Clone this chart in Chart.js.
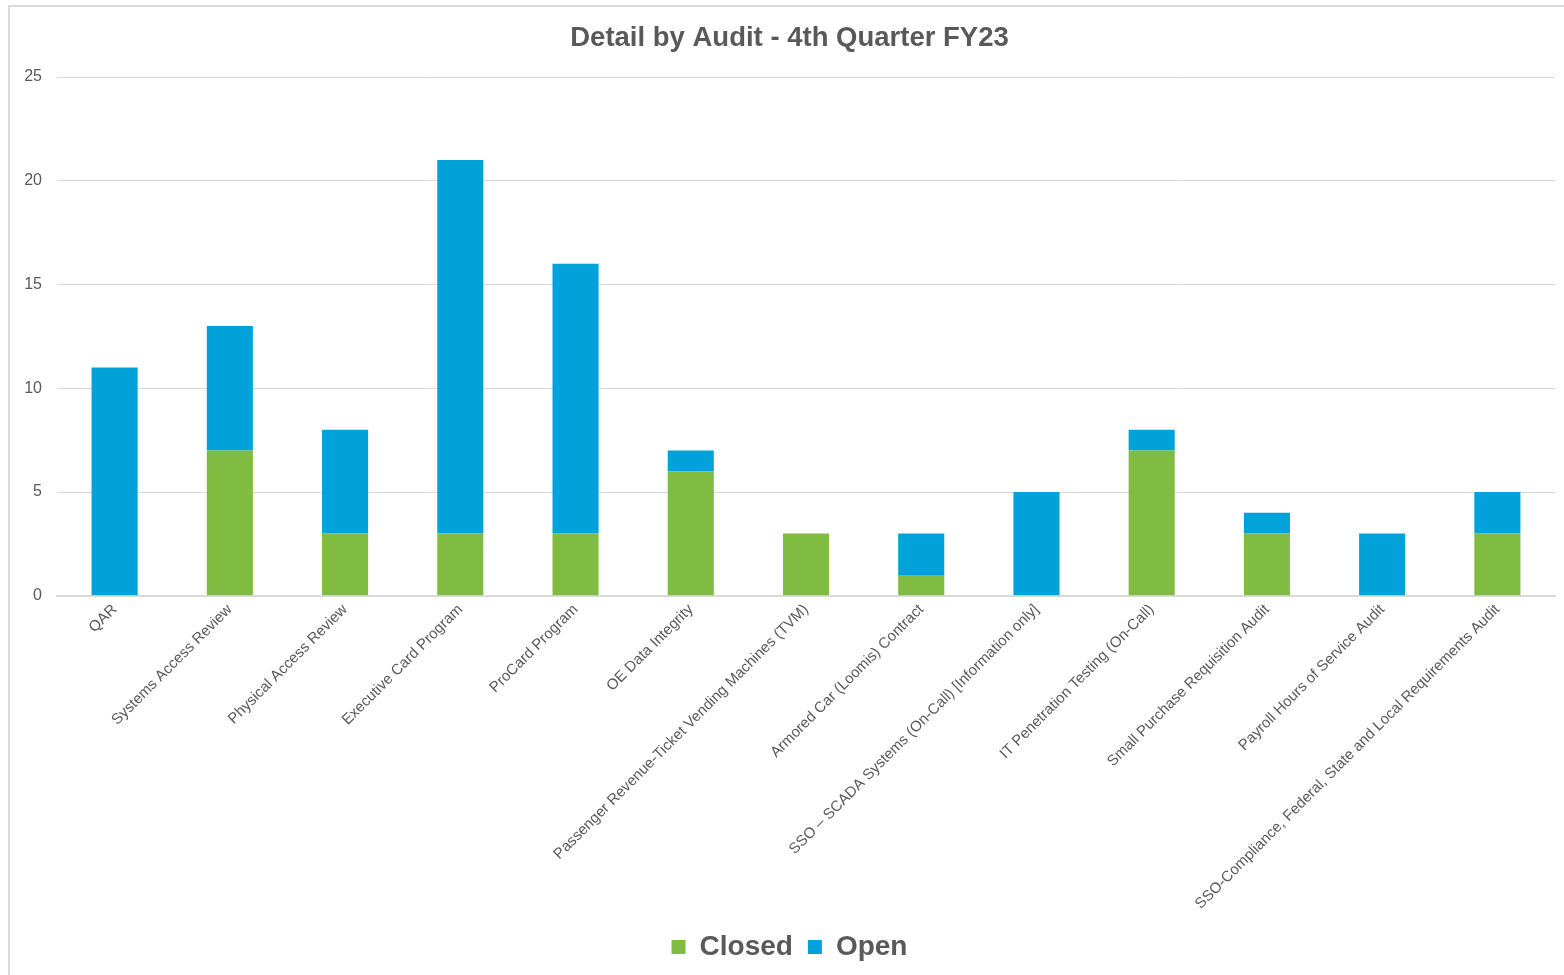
<!DOCTYPE html>
<html>
<head>
<meta charset="utf-8">
<script src="https://cdn.jsdelivr.net/npm/chart.js@4.4.0/dist/chart.umd.min.js"></script>
<style>
    body { margin: 0; background: #fff; overflow: hidden; }
    #frame { position: absolute; left: 8px; top: 5px; width: 1600px; height: 1000px; border: 2px solid #d9d9d9; box-sizing: border-box; }
    #wrap { position: absolute; left: 0; top: 0; width: 1564px; height: 975px; }
</style>
</head>
<body>
<div id="frame"></div>
<div id="wrap"><canvas id="chart1"></canvas></div>
<script>
    // audit names (x axis)
    var audits = [
        "QAR",
        "Systems Access Review",
        "Physical Access Review",
        "Executive Card Program",
        "ProCard Program",
        "OE Data Integrity",
        "Passenger Revenue-Ticket Vending Machines (TVM)",
        "Armored Car (Loomis) Contract",
        "SSO \u2013 SCADA Systems (On-Call) [Information only]",
        "IT Penetration Testing (On-Call)",
        "Small Purchase Requisition Audit",
        "Payroll Hours of Service Audit",
        "SSO-Compliance, Federal, State and Local Requirements Audit"
    ];
    var closedValues = [0, 7, 3, 3, 3, 6, 3, 1, 0, 7, 3, 0, 3];
    var openValues = [11, 6, 5, 18, 13, 1, 0, 2, 5, 1, 1, 3, 2];
    var yTicks = [0, 5, 10, 15, 20, 25];

    var textColor = "#595959";
    var gridColor = "#d9d9d9";

    new Chart("chart1", {
        type: "bar",
        data: {
            labels: audits,
            datasets: [{
                label: "Closed",
                data: closedValues,
                backgroundColor: "#7fbc41",
                categoryPercentage: 1,
                barPercentage: 0.4
            }, {
                label: "Open",
                data: openValues,
                backgroundColor: "#00a3d9",
                categoryPercentage: 1,
                barPercentage: 0.4
            }]
        },
        options: {
            responsive: true,
            maintainAspectRatio: false,
            animation: false,
            layout: {
                autoPadding: false,
                padding: { left: 24, right: 9, top: 22, bottom: 4 }
            },
            plugins: {
                title: {
                    display: true,
                    text: "Detail by Audit - 4th Quarter FY23",
                    color: textColor,
                    font: { family: "Liberation Sans", size: 27.5, weight: "bold" },
                    padding: { top: 0, bottom: 22 }
                },
                legend: {
                    position: "bottom",
                    labels: {
                        color: textColor,
                        font: { family: "Liberation Sans", size: 28, weight: "bold" },
                        boxWidth: 14,
                        boxHeight: 14,
                        padding: 15
                    }
                },
                tooltip: { enabled: false }
            },
            scales: {
                x: {
                    stacked: true,
                    grid: { display: false, drawTicks: false },
                    border: { display: true, color: gridColor, width: 2 },
                    ticks: {
                        color: textColor,
                        font: { family: "Liberation Sans", size: 15 },
                        minRotation: 45,
                        maxRotation: 45,
                        autoSkip: false,
                        padding: 5
                    }
                },
                y: {
                    stacked: true,
                    min: 0,
                    max: 25,
                    afterBuildTicks: function (axis) {
                        axis.ticks = yTicks.map(function (v) { return { value: v }; });
                    },
                    afterFit: function (axis) {
                        axis.width = 33;
                    },
                    grid: { color: gridColor, lineWidth: 1, drawTicks: false },
                    border: { display: false },
                    ticks: {
                        color: textColor,
                        font: { family: "Liberation Sans", size: 16 },
                        padding: 15
                    }
                }
            }
        }
    });
</script>
</body>
</html>
